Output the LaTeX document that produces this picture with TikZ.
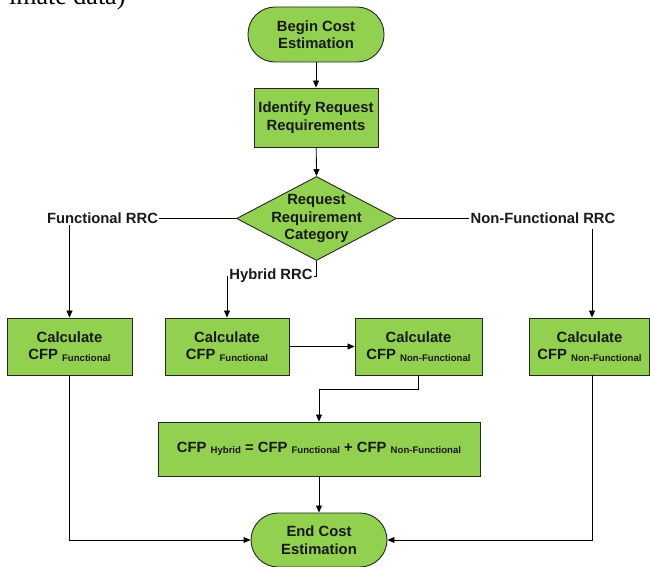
\documentclass[tikz,border=0pt]{standalone}
\usepackage{fontspec}
\setmainfont{Liberation Sans}
\newfontfamily\captionserif{Liberation Serif}
\usetikzlibrary{shapes.geometric,arrows.meta}

\definecolor{boxgreen}{HTML}{92D050}
\definecolor{edgegray}{HTML}{262626}

\tikzset{
  base/.style={font=\bfseries\fontsize{14.8}{17.5}\selectfont, text=black!90, align=center},
  procbox/.style={base, draw=edgegray, line width=0.9pt, fill=boxgreen,
    minimum width=125pt, minimum height=57pt, inner sep=0pt},
  terminal/.style={base, draw=edgegray, line width=0.9pt, fill=boxgreen,
    minimum width=136pt, minimum height=55pt, rounded corners=27pt, inner sep=0pt},
  decision/.style={diamond, draw=edgegray, line width=0.9pt, fill=boxgreen,
    minimum width=160pt, minimum height=84pt, inner sep=0pt},
  branch/.style={base, inner sep=1pt},
  conn/.style={draw=black, line width=0.8pt},
  arr/.style={conn, -{Triangle[length=7pt,width=6pt]}},
}
\newcommand{\subtxt}[1]{\raisebox{-1.5pt}{\fontsize{9.6}{10}\selectfont #1}}

\begin{document}
\begin{tikzpicture}[x=1pt,y=-1pt]
  \useasboundingbox (0,0) rectangle (650,567);

  % tail of the preceding line of text
  \begin{scope}
    \clip (0,0) rectangle (650,567);
    \node[font=\captionserif\fontsize{26}{26}\selectfont, anchor=base west, inner sep=0pt]
      (prevline) at (9,4.5) {imate data)};
  \end{scope}

  % nodes
  \node[terminal] (begin) at (316,34.5) {Begin Cost\\Estimation};
  \node[procbox, minimum width=124pt, minimum height=59pt] (ident) at (316,117.5) {Identify Request\\Requirements};
  \node[decision] (cat) at (316.5,218.5) {};
  \node[base] (catlbl) at (cat) {Request\\Requirement\\Category};

  \node[branch] (frrc) at (102.5,218.5) {Functional RRC};
  \node[branch] (nrrc) at (543,218.5) {Non-Functional RRC};
  \node[branch] (hrrc) at (271,276) {Hybrid RRC};

  \node[procbox] (cf1) at (69.5,346.5) {Calculate\\CFP \subtxt{Functional}};
  \node[procbox, minimum width=124pt] (cf2) at (227,346.5) {Calculate\\CFP \subtxt{Functional}};
  \node[procbox, minimum width=127pt] (cn1) at (418.5,346.5) {Calculate\\CFP \subtxt{Non-Functional}};
  \node[procbox, minimum width=120pt] (cn2) at (589.5,346.5) {Calculate\\CFP \subtxt{Non-Functional}};

  \node[procbox, minimum width=322pt, minimum height=54pt] (hyb) at (319,449)
    {CFP \subtxt{Hybrid} = CFP \subtxt{Functional} + CFP \subtxt{Non-Functional}};

  \node[terminal, minimum height=54pt] (end) at (319,540) {End Cost\\Estimation};

  % drop line on the non-functional branch
  \coordinate (nfdrop) at (592,229);

  % connectors
  \draw[arr] (begin) -- (ident);
  \draw[arr] (ident) -- (cat.north);
  \draw[conn] (cat.west) -- (frrc.east);
  \draw[conn] (cat.east) -- (nrrc.west);
  \draw[conn] (cat.south) |- (hrrc.east);

  \draw[arr] (cf1.north |- frrc.south) -- (cf1.north);
  \draw[arr] (nfdrop) -- (nfdrop |- cn2.north);
  \draw[arr] (hrrc.west) -| (cf2.north);
  \draw[arr] (cf2.east) -- (cn1.west);

  \draw[arr] (cn1.south) -- ++(0,14) -| (hyb.north);
  \draw[arr] (hyb.south) -- (end.north);
  \draw[arr] (cf1.south) |- (end.west);
  \draw[arr] (nfdrop |- cn2.south) |- (end.east);
\end{tikzpicture}
\end{document}
